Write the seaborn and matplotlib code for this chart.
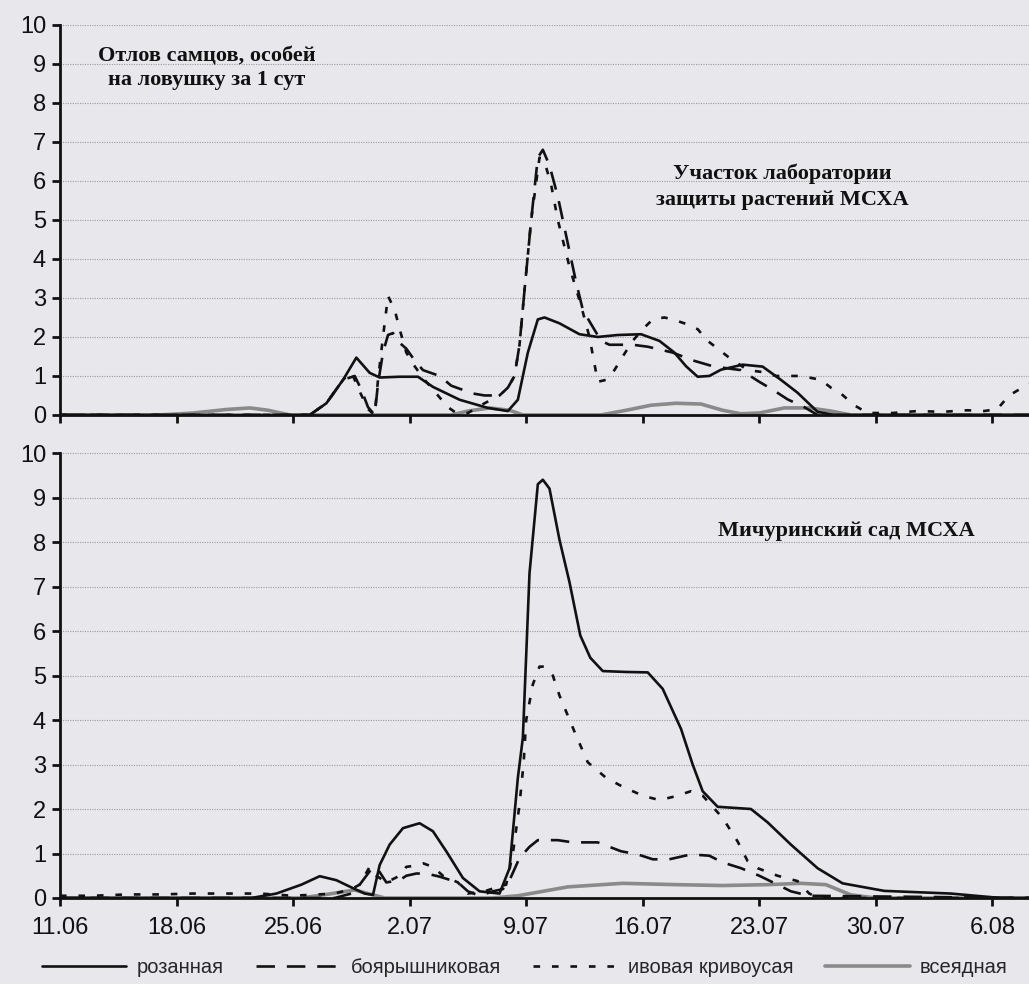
import numpy as np
import pandas as pd
import matplotlib
matplotlib.use('Agg')
import matplotlib.pyplot as plt
from matplotlib.lines import Line2D
import seaborn as sns

# days counted from 11.06
SPECIES = ['розанная', 'боярышниковая', 'ивовая кривоусая', 'всеядная']
TICK_DAYS = [0, 7, 14, 21, 28, 35, 42, 49, 56]
TICK_LABELS = ['11.06', '18.06', '25.06', '2.07', '9.07', '16.07', '23.07', '30.07', '6.08']

# --- upper panel: участок лаборатории защиты растений
top_roz_d = [0, 15.0, 16.0, 17.0, 17.8, 18.6, 19.2, 20.4, 21.5, 22.4, 24.0, 25.7, 26.9, 27.5, 28.1, 28.7,
             29.1, 30.0, 31.2, 32.3, 33.5, 34.9, 36.0, 36.9, 37.6, 38.3, 39.0, 39.7, 41.0, 42.2, 43.3,
             44.3, 45.5, 46.5, 58.2]
top_roz_v = [0, 0, 0.3, 0.9, 1.47, 1.08, 0.96, 0.98, 0.98, 0.72, 0.39, 0.18, 0.1, 0.39, 1.6, 2.45,
             2.5, 2.35, 2.07, 2.0, 2.05, 2.07, 1.9, 1.6, 1.25, 0.98, 1.0, 1.16, 1.29, 1.24, 0.9,
             0.57, 0.08, 0, 0]

top_boy_d = [0, 15.0, 16.0, 17.0, 17.7, 18.1, 18.5, 18.9, 19.1, 19.4, 19.7, 20.0, 20.4, 20.8, 21.3, 21.8,
             22.8, 23.5, 24.8, 25.5, 26.4, 26.9, 27.3, 27.6, 27.9, 28.3, 28.7, 29.0, 29.4, 29.9, 30.4,
             31.0, 31.4, 31.8, 32.5, 33.0, 34.4, 35.3, 36.8, 38.0, 39.2, 40.0, 40.9, 42.0, 42.8, 43.7,
             44.7, 45.5, 58.2]
top_boy_v = [0, 0, 0.3, 0.9, 1.0, 0.65, 0.2, 0, 0.8, 1.6, 2.05, 2.1, 1.85, 1.7, 1.4, 1.15,
             1.0, 0.75, 0.55, 0.5, 0.5, 0.7, 1.0, 1.8, 3.2, 5.0, 6.6, 6.8, 6.4, 5.6, 4.6,
             3.4, 2.7, 2.4, 1.9, 1.8, 1.8, 1.75, 1.6, 1.4, 1.25, 1.2, 1.15, 0.85, 0.65, 0.4,
             0.2, 0, 0]

top_ivo_d = [0, 15.0, 16.0, 17.0, 17.5, 18.0, 18.5, 18.9, 19.1, 19.4, 19.7, 20.1, 20.4, 20.8, 21.3, 21.8,
             22.5, 23.3, 23.8, 24.5, 25.5, 26.4, 26.9, 27.3, 27.6, 27.9, 28.3, 28.8, 29.1, 29.5, 29.9,
             30.6, 31.3, 31.8, 32.3, 32.8, 33.3, 33.8, 34.4, 35.0, 35.6, 36.3, 36.8, 37.5, 38.3, 38.9,
             39.5, 40.1, 41.3, 42.2, 43.0, 44.5, 45.7, 46.3, 46.9, 47.7, 48.5, 50.0, 51.5, 53.0, 54.5,
             55.5, 56.3, 57.0, 58.2]
top_ivo_v = [0, 0, 0.3, 0.9, 1.1, 0.6, 0.15, 0, 0.9, 2.0, 3.05, 2.7, 2.2, 1.6, 1.25, 0.95,
             0.6, 0.2, 0.05, 0.05, 0.3, 0.5, 0.7, 1.0, 1.8, 3.2, 5.0, 6.6, 6.5, 5.9, 5.0,
             3.8, 2.8, 2.0, 0.85, 0.9, 1.15, 1.5, 1.9, 2.2, 2.45, 2.5, 2.45, 2.35, 2.2, 1.9,
             1.7, 1.5, 1.15, 1.1, 1.0, 1.0, 0.9, 0.7, 0.55, 0.25, 0.05, 0.05, 0.1, 0.08, 0.12,
             0.1, 0.15, 0.5, 0.8]

top_vse_d = [0, 6.0, 8.0, 10.0, 11.4, 12.5, 13.8, 23.5, 24.5, 25.8, 27.0, 27.8, 32.5, 34.0, 35.5,
             37.0, 38.5, 39.8, 40.9, 42.0, 43.5, 45.0, 46.3, 47.5, 58.2]
top_vse_v = [0, 0, 0.05, 0.14, 0.18, 0.12, 0, 0, 0.1, 0.18, 0.12, 0, 0, 0.12, 0.25,
             0.3, 0.28, 0.12, 0.03, 0.05, 0.18, 0.18, 0.1, 0, 0]

# --- lower panel: Мичуринский сад
bot_roz_d = [0, 11.5, 13.0, 14.5, 15.6, 16.6, 17.6, 18.3, 18.8, 19.2, 19.8, 20.6, 21.6, 22.4, 23.2,
             24.2, 25.2, 26.4, 27.0, 27.5, 27.8, 28.2, 28.7, 29.0, 29.4, 30.0, 30.6, 31.25, 31.85,
             32.6, 34.0, 35.3, 36.2, 37.3, 38.0, 38.6, 39.5, 41.5, 42.5, 43.9, 45.5, 47.0, 49.5,
             53.5, 56.5, 58.2]
bot_roz_v = [0, 0, 0.1, 0.3, 0.49, 0.4, 0.22, 0.1, 0.07, 0.74, 1.2, 1.57, 1.68, 1.5, 1.05,
             0.45, 0.15, 0.1, 0.67, 2.7, 3.6, 7.3, 9.3, 9.4, 9.2, 8.05, 7.1, 5.9, 5.4,
             5.1, 5.08, 5.07, 4.7, 3.8, 3.0, 2.4, 2.05, 2.0, 1.7, 1.2, 0.67, 0.33, 0.16,
             0.1, 0, 0]

bot_boy_d = [0, 16.5, 17.5, 18.0, 18.6, 19.0, 19.6, 20.4, 20.8, 21.4, 22.0, 22.8, 23.9, 24.5, 25.2,
             26.0, 26.6, 27.0, 27.6, 28.2, 28.7, 29.9, 30.8, 32.3, 33.7, 34.7, 35.6, 36.6, 37.9,
             39.0, 39.8, 40.9, 42.0, 43.1, 43.9, 45.0, 58.2]
bot_boy_v = [0, 0, 0.1, 0.3, 0.6, 0.7, 0.35, 0.4, 0.5, 0.55, 0.55, 0.48, 0.35, 0.15, 0.05,
             0.15, 0.2, 0.4, 0.9, 1.15, 1.3, 1.3, 1.25, 1.25, 1.05, 0.98, 0.87, 0.87, 0.98,
             0.95, 0.8, 0.67, 0.5, 0.3, 0.15, 0.05, 0]

bot_ivo_d = [0, 2, 4, 6, 8, 10, 12, 14, 16.5, 17.5, 18.0, 18.6, 19.0, 19.6, 20.4, 20.8, 21.2, 21.8,
             22.4, 23.0, 23.9, 24.5, 25.5, 26.3, 26.8, 27.2, 27.6, 27.85, 28.0, 28.4, 28.8, 29.1,
             29.6, 30.0, 30.5, 31.0, 31.7, 32.8, 33.8, 35.0, 36.0, 36.9, 37.9, 38.6, 39.8, 40.7,
             41.3, 41.9, 43.1, 44.3, 45.0, 45.6, 58.2]
bot_ivo_v = [0.05, 0.05, 0.08, 0.08, 0.1, 0.1, 0.1, 0.05, 0.1, 0.2, 0.3, 0.7, 0.5, 0.35, 0.5, 0.7,
             0.72, 0.78, 0.7, 0.5, 0.35, 0.1, 0.15, 0.25, 0.3, 1.0, 2.1, 3.05, 4.0, 4.8, 5.2, 5.2,
             5.0, 4.55, 4.1, 3.65, 3.05, 2.7, 2.5, 2.3, 2.2, 2.28, 2.4, 2.3, 1.8, 1.27,
             0.83, 0.67, 0.5, 0.38, 0.1, 0, 0]

bot_vse_d = [0, 14.5, 16.0, 17.7, 19.0, 19.5, 26.0, 27.5, 29.0, 30.5, 33.8, 37.0, 39.8, 42.5, 44.5,
             46.0, 47.5, 49.0, 58.2]
bot_vse_v = [0, 0, 0.08, 0.18, 0.05, 0, 0, 0.05, 0.15, 0.25, 0.33, 0.3, 0.28, 0.3, 0.33,
             0.3, 0.07, 0, 0]

COLORS = {'розанная': '#111111', 'боярышниковая': '#111111',
          'ивовая кривоусая': '#111111', 'всеядная': '#8a8a8a'}
DASHES = {'розанная': '', 'боярышниковая': (7, 4.5),
          'ивовая кривоусая': (2.5, 4.5), 'всеядная': ''}
BG = '#e7e7ec'


def make_frame(series):
    parts = []
    for name, (d, v) in zip(SPECIES, series):
        parts.append(pd.DataFrame({'day': d, 'value': v, 'species': name}))
    return pd.concat(parts, ignore_index=True)


top_df = make_frame([(top_roz_d, top_roz_v), (top_boy_d, top_boy_v),
                     (top_ivo_d, top_ivo_v), (top_vse_d, top_vse_v)])
bot_df = make_frame([(bot_roz_d, bot_roz_v), (bot_boy_d, bot_boy_v),
                     (bot_ivo_d, bot_ivo_v), (bot_vse_d, bot_vse_v)])

sns.set_style('ticks')
plt.rcParams['font.family'] = ['Liberation Sans', 'DejaVu Sans']

fig = plt.figure(figsize=(10.29, 9.84), dpi=100, facecolor=BG)
ax_top = fig.add_axes([0.0583, 0.5783, 0.9417, 0.3963])
ax_bot = fig.add_axes([0.0583, 0.0874, 0.9417, 0.4522])

for ax, df in [(ax_top, top_df), (ax_bot, bot_df)]:
    ax.set_facecolor(BG)
    sns.lineplot(data=df, x='day', y='value', hue='species', style='species',
                 hue_order=SPECIES, style_order=SPECIES, palette=COLORS, dashes=DASHES,
                 estimator=None, linewidth=1.9, legend=False, ax=ax)
    for ln in ax.lines:
        if matplotlib.colors.to_hex(ln.get_color()) == COLORS['всеядная']:
            ln.set_linewidth(2.6)
            ln.set_zorder(1.5)
    ax.set_xlim(0, 58.2)
    ax.set_ylim(0, 10)
    ax.set_yticks(range(0, 11))
    ax.set_xticks(TICK_DAYS)
    ax.set_xlabel('')
    ax.set_ylabel('')
    ax.grid(True, axis='y', color='#9a9aa0', linestyle=(0, (1, 1.2)), linewidth=0.8)
    ax.set_axisbelow(True)
    for s in ['top', 'right']:
        ax.spines[s].set_visible(False)
    for s in ['left', 'bottom']:
        ax.spines[s].set_linewidth(2.0)
        ax.spines[s].set_color('#111111')
    ax.tick_params(axis='both', width=2.0, length=6, color='#111111',
                   labelsize=17, labelcolor='#111111')
    ax.tick_params(axis='y', pad=4)

ax_top.set_xticklabels([])
ax_bot.set_xticklabels(TICK_LABELS)
ax_bot.tick_params(axis='x', pad=8)

serif = dict(family=['Liberation Serif', 'DejaVu Serif'], fontweight='bold', fontsize=16, color='#111111')
ax_top.text(8.8, 8.9, 'Отлов самцов, особей\nна ловушку за 1 сут', ha='center', va='center',
            linespacing=1.25, **serif)
ax_top.text(43.4, 5.85, 'Участок лаборатории\nзащиты растений МСХА', ha='center', va='center',
            linespacing=1.45, **serif)
ax_bot.text(39.5, 8.25, 'Мичуринский сад МСХА', ha='left', va='center', **serif)

handles = [Line2D([], [], color=COLORS[n], linewidth=2.6 if n == 'всеядная' else 1.9,
                  dashes=DASHES[n] if DASHES[n] else (None, None)) for n in SPECIES]
fig.legend(handles, SPECIES, loc='center', bbox_to_anchor=(0.51, 0.0163), ncol=4, frameon=False,
           handlelength=4.2, handletextpad=0.5, columnspacing=1.6, fontsize=14.5)

fig.savefig('out.png', dpi=100, facecolor=BG)
